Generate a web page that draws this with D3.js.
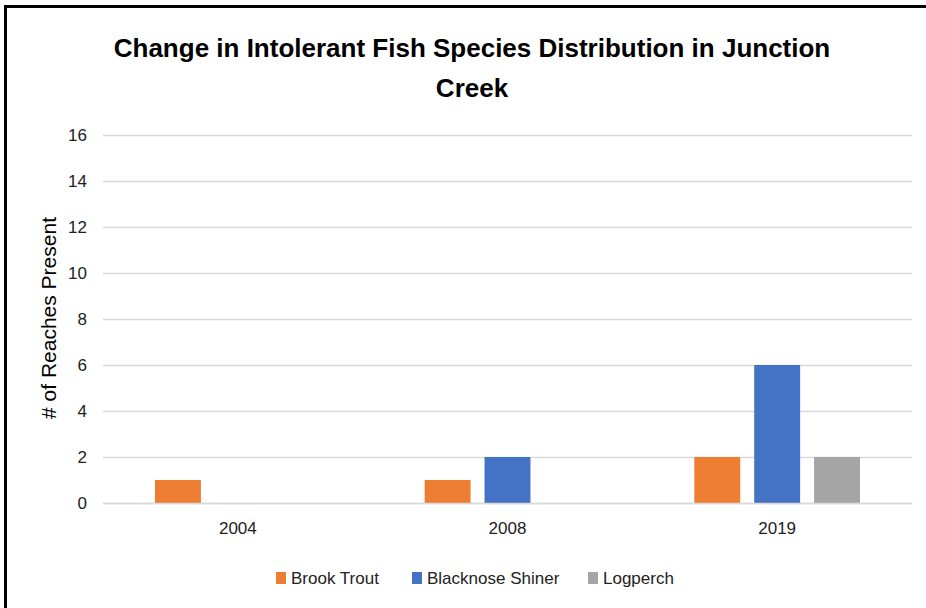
<!DOCTYPE html>
<html><head><meta charset="utf-8">
<script src="https://cdn.jsdelivr.net/npm/d3@7"></script>
<style>
html,body{margin:0;padding:0;background:#fff;}
svg text{font-family:"Liberation Sans","Arial",sans-serif;}
</style></head>
<body>
<svg id="c" width="926" height="608"></svg>
<script>
const categories = ["2004", "2008", "2019"];
const seriesNames = ["Brook Trout", "Blacknose Shiner", "Logperch"];
const brookTrout = [1, 1, 2];
const blacknoseShiner = [0, 2, 6];
const logperch = [0, 0, 2];
const yTicks = [0, 2, 4, 6, 8, 10, 12, 14, 16];
const colors = ["#ED7D31", "#4472C4", "#A5A5A5"];
const seriesValues = [brookTrout, blacknoseShiner, logperch];

(function () {
const svg = d3.select("#c");
svg.append("rect").attr("x", 5.5).attr("y", 6.5).attr("width", 1000).attr("height", 700)
  .attr("fill", "none").attr("stroke", "#000").attr("stroke-width", 3);

const pl = 103, pr = 912, pt = 135, pb = 503;
const x0 = d3.scaleBand().domain(categories).range([pl, pr]).paddingInner(0).paddingOuter(0);
const x1 = d3.scaleBand().domain(seriesNames).range([52, x0.bandwidth() - 52]).paddingInner(14/60).paddingOuter(0);
const y = d3.scaleLinear().domain([0, 16]).range([pb, pt]);

const title = svg.append("text").attr("text-anchor", "middle").attr("font-weight", "bold")
  .attr("font-size", 26).attr("fill", "#000");
title.append("tspan").attr("x", 472).attr("y", 57).text("Change in Intolerant Fish Species Distribution in Junction");
title.append("tspan").attr("x", 472).attr("y", 97).text("Creek");

const yAxis = d3.axisLeft(y).tickValues(yTicks).tickSize(-(pr - pl)).tickPadding(16).tickFormat(d3.format("d"));
const ga = svg.append("g").attr("transform", `translate(${pl},0)`).call(yAxis);
ga.select(".domain").remove();
ga.selectAll(".tick line").attr("stroke", "#D9D9D9").attr("stroke-width", 1.5);
ga.selectAll(".tick text").attr("font-size", 17).attr("fill", "#222");

const groups = svg.append("g").selectAll("g").data(categories).join("g")
  .attr("transform", d => `translate(${x0(d)},0)`);
groups.selectAll("rect").data((d, i) => seriesNames.map((s, j) => ({s, v: seriesValues[j][i], c: colors[j]})))
  .join("rect")
  .attr("x", d => x1(d.s)).attr("width", x1.bandwidth())
  .attr("y", d => y(d.v)).attr("height", d => y(0) - y(d.v))
  .attr("fill", d => d.c);

const xAxis = d3.axisBottom(x0).tickSize(0).tickPadding(19);
const gx = svg.append("g").attr("transform", `translate(0,${pb})`).call(xAxis);
gx.select(".domain").attr("stroke", "#D9D9D9").attr("stroke-width", 1.5);
gx.selectAll(".tick text").attr("font-size", 17).attr("fill", "#222");

svg.append("text").attr("transform", "translate(56,318) rotate(-90)").attr("text-anchor", "middle")
  .attr("font-size", 21).attr("fill", "#000").text("# of Reaches Present");

const legendX = [276, 412, 588];
const lg = svg.append("g").selectAll("g").data(seriesNames).join("g")
  .attr("transform", (d, i) => `translate(${legendX[i]},572)`);
lg.append("rect").attr("width", 10).attr("height", 12).attr("fill", (d, i) => colors[i]);
lg.append("text").attr("x", 15).attr("y", 12).attr("font-size", 17).attr("fill", "#222").text(d => d);
})();
</script>
</body></html>
